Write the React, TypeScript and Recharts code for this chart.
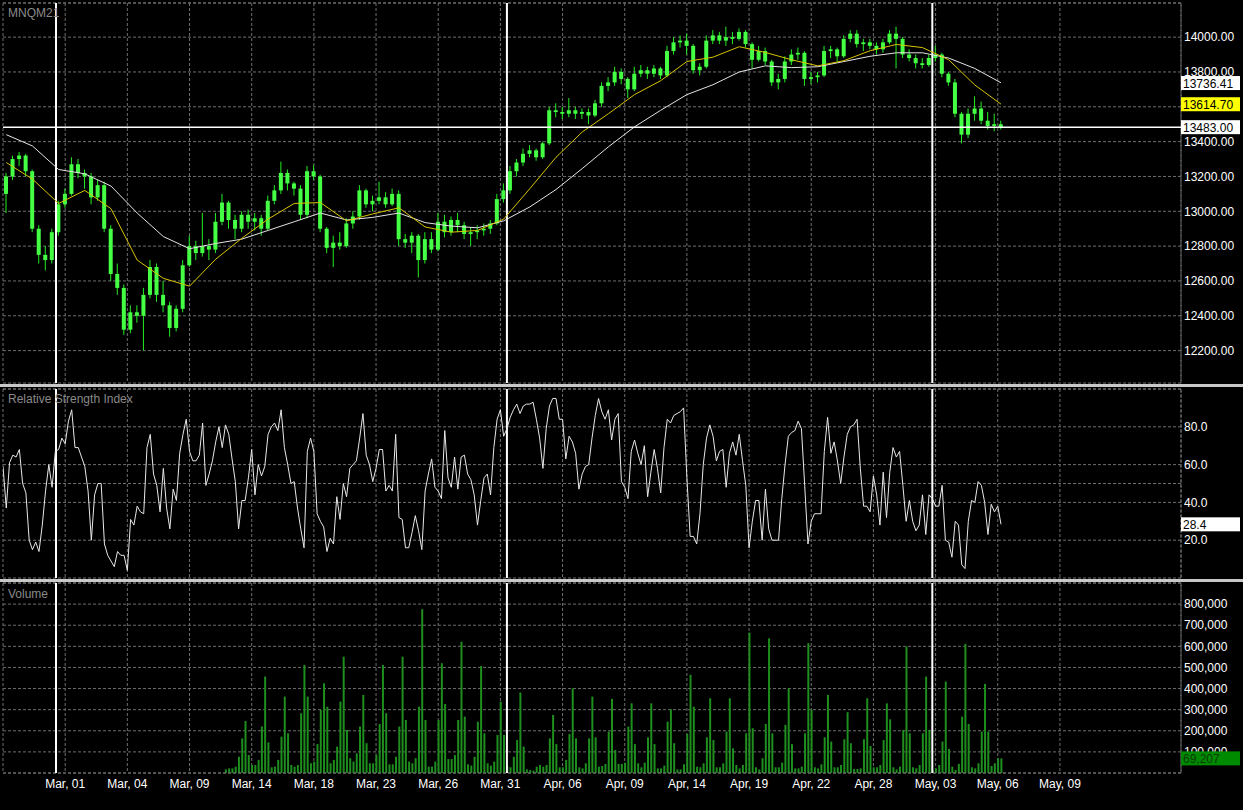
import { ComposedChart, Bar, Line, XAxis, YAxis, CartesianGrid, ReferenceLine } from 'recharts';

const FONT = 'Liberation Sans, Arial, sans-serif';
const GRID = '#6e6e6e';

// x positions are bar indices (4h bars), 0..360 spans the plot width
const xTicks = [0, 19, 38, 57, 76, 95, 114, 133, 152, 171, 190, 209, 228, 247, 266, 285, 304, 323];
const xLabels = ['', 'Mar, 01', 'Mar, 04', 'Mar, 09', 'Mar, 14', 'Mar, 18', 'Mar, 23', 'Mar, 26', 'Mar, 31',
  'Apr, 06', 'Apr, 09', 'Apr, 14', 'Apr, 19', 'Apr, 22', 'Apr, 28', 'May, 03', 'May, 06', 'May, 09'];
const monthStarts = [16.2, 154, 284];

const priceTicks = [12200, 12400, 12600, 12800, 13000, 13200, 13400, 13600, 13800, 14000];
const rsiTicks = [20, 40, 50, 60, 80];
const volumeTicks = [100000, 200000, 300000, 400000, 500000, 600000, 700000, 800000];

// candles, one every 2 bars (k = 2j + 1)
const candleOpen = [
  13100, 13200, 13300, 13320, 13230, 12900, 12750, 12720, 12880, 13040,
  13100, 13270, 13220, 13200, 13080, 13150, 12900, 12640, 12560, 12320,
  12420, 12400, 12520, 12680, 12520, 12460, 12330, 12440, 12690, 12800,
  12760, 12800, 12780, 12940, 13050, 12950, 12900, 12980, 12940, 12960,
  12900, 13060, 13120, 13220, 13160, 13130, 12980, 13230, 13200, 12900,
  12790, 12820, 12800, 12930, 12970, 13120, 13040, 13060, 13080, 13040,
  13100, 12840, 12820, 12860, 12720, 12840, 12780, 12940, 12880, 12950,
  12920, 12870, 12880, 12890, 12900, 12930, 13070, 13120, 13230, 13280,
  13330, 13350, 13310, 13390, 13580, 13570, 13560, 13580, 13560, 13570,
  13550, 13620, 13720, 13740, 13800, 13760, 13700, 13790, 13810, 13790,
  13820, 13780, 13920, 13970, 13980, 13950, 13810, 13830, 13980, 14010,
  13980, 14000, 13990, 14030, 13960, 13870, 13920, 13860, 13740, 13760,
  13860, 13900, 13910, 13760, 13770, 13780, 13920, 13930, 13890, 13990,
  14020, 13960, 13970, 13950, 13930, 13970, 14020, 13990, 13900, 13880,
  13850, 13840, 13880, 13900, 13790, 13740, 13560, 13440, 13560, 13590,
  13520, 13490, 13500,
];
const candleHigh = [
  13220, 13320, 13340, 13330, 13240, 12920, 12800, 12900, 13060, 13130,
  13310, 13300, 13240, 13220, 13180, 13170, 12920, 12700, 12580, 12460,
  12460, 12560, 12720, 12700, 12600, 12480, 12460, 12720, 12860, 12830,
  12990, 12840, 12990, 13100, 13060, 12980, 13000, 13010, 12990, 12980,
  13090, 13150, 13285, 13240, 13170, 13150, 13260, 13265, 13210, 12910,
  12860, 12880, 12960, 13000, 13150, 13130, 13090, 13170, 13110, 13130,
  13120, 12870, 12880, 12870, 12880, 12880, 12990, 12980, 12970, 12990,
  12940, 12910, 12920, 12930, 12950, 13100, 13160, 13260, 13300, 13360,
  13380, 13360, 13400, 13600, 13620, 13600, 13650, 13600, 13590, 13590,
  13640, 13740, 13770, 13830, 13820, 13770, 13830, 13840, 13830, 13840,
  13830, 13950, 14000, 14010, 14020, 13960, 13850, 14010, 14040, 14030,
  14060, 14030, 14050, 14040, 13970, 13950, 13940, 13870, 13790, 13890,
  13930, 13940, 13920, 13800, 13800, 13950, 13950, 13940, 14010, 14040,
  14040, 13990, 13990, 13970, 13990, 14040, 14060, 14000, 13930, 13900,
  13880, 13900, 13950, 13910, 13800, 13760, 13570, 13590, 13660, 13630,
  13570, 13560, 13520,
];
const candleLow = [
  12990, 13180, 13260, 13200, 12880, 12700, 12660, 12700, 12860, 13020,
  13090, 13190, 13130, 13040, 13060, 12880, 12600, 12520, 12290, 12300,
  12360, 12200, 12500, 12480, 12420, 12280, 12310, 12420, 12680, 12720,
  12740, 12720, 12760, 12920, 12900, 12840, 12880, 12900, 12890, 12860,
  12890, 13040, 13100, 13120, 13090, 12950, 12960, 13180, 12880, 12760,
  12680, 12780, 12790, 12900, 12950, 13020, 13000, 13040, 13020, 13030,
  12800, 12790, 12760, 12620, 12700, 12760, 12770, 12850, 12860, 12880,
  12840, 12800, 12840, 12860, 12870, 12920, 13050, 13100, 13200, 13260,
  13310, 13290, 13300, 13380, 13540, 13530, 13540, 13530, 13530, 13500,
  13540, 13600, 13690, 13720, 13730, 13650, 13690, 13770, 13760, 13770,
  13760, 13770, 13900, 13940, 13900, 13790, 13780, 13820, 13960, 13960,
  13950, 13960, 13980, 13940, 13820, 13860, 13840, 13720, 13700, 13740,
  13840, 13870, 13720, 13730, 13740, 13770, 13880, 13860, 13880, 13970,
  13940, 13920, 13930, 13900, 13910, 13960, 13820, 13880, 13860, 13820,
  13820, 13830, 13860, 13770, 13720, 13540, 13390, 13420, 13520, 13500,
  13470, 13460, 13470,
];
const candleClose = [
  13200, 13300, 13320, 13230, 12900, 12750, 12720, 12880, 13040, 13100,
  13270, 13220, 13200, 13080, 13150, 12900, 12640, 12560, 12320, 12420,
  12400, 12520, 12680, 12520, 12460, 12330, 12440, 12690, 12800, 12760,
  12800, 12780, 12940, 13050, 12950, 12900, 12980, 12940, 12960, 12900,
  13060, 13120, 13220, 13160, 13130, 12980, 13230, 13200, 12900, 12790,
  12820, 12800, 12930, 12970, 13120, 13040, 13060, 13080, 13040, 13100,
  12840, 12820, 12860, 12720, 12840, 12780, 12940, 12880, 12950, 12920,
  12870, 12880, 12890, 12900, 12930, 13070, 13120, 13230, 13280, 13330,
  13350, 13310, 13390, 13580, 13570, 13560, 13580, 13560, 13570, 13550,
  13620, 13720, 13740, 13800, 13760, 13700, 13790, 13810, 13790, 13820,
  13780, 13920, 13970, 13980, 13950, 13810, 13830, 13980, 14010, 13980,
  14000, 13990, 14030, 13960, 13870, 13920, 13860, 13740, 13760, 13860,
  13900, 13910, 13760, 13770, 13780, 13920, 13930, 13890, 13990, 14020,
  13960, 13970, 13950, 13930, 13970, 14020, 13990, 13900, 13880, 13850,
  13840, 13880, 13900, 13790, 13740, 13560, 13440, 13560, 13590, 13520,
  13490, 13500, 13483,
];

// moving averages, sampled at these bar indices
const maBars = [1, 9, 17, 25, 33, 41, 49, 57, 65, 73, 81, 89, 97, 105, 113, 121, 129, 137, 145, 153,
  161, 169, 177, 185, 193, 201, 209, 217, 225, 233, 241, 249, 257, 265, 273, 281, 289, 297, 305];
const maFast = [
  13280, 13185, 13045, 13120, 13015, 12720, 12615, 12570, 12725, 12845,
  12955, 13045, 13050, 12945, 12985, 13020, 12910, 12880, 12890, 12955,
  13130, 13310, 13455, 13560, 13670, 13750, 13860, 13885, 13945, 13912,
  13870, 13835, 13865, 13922, 13958, 13940, 13870, 13725, 13615,
];
const maSlow = [
  13440, 13375, 13240, 13215, 13145, 12990, 12855, 12785, 12815, 12840,
  12890, 12940, 12990, 12950, 12965, 12990, 12935, 12915, 12905, 12945,
  13025, 13125, 13245, 13370, 13485, 13580, 13670, 13727, 13800, 13835,
  13825, 13830, 13860, 13890, 13910, 13910, 13880, 13820, 13738,
];

// RSI, one value per bar from k = 0
const rsi = [
  59, 37, 61, 65, 64, 68, 50, 45, 20, 15, 19, 14, 28, 46, 60, 48, 67, 68, 74, 71,
  83, 89, 69, 69, 64, 59, 46, 20, 44, 50, 50, 18, 12, 9, 6, 14, 12, 12, 4, 31,
  28, 38, 35, 34, 69, 76, 55, 49, 35, 58, 37, 26, 47, 41, 66, 76, 84, 67, 62, 62,
  65, 82, 49, 55, 62, 72, 80, 69, 81, 76, 63, 51, 26, 41, 41, 53, 68, 44, 60, 54,
  59, 76, 80, 82, 78, 89, 69, 60, 50, 51, 37, 26, 16, 67, 74, 67, 34, 30, 27, 14,
  21, 18, 43, 31, 50, 43, 58, 60, 62, 74, 87, 65, 60, 51, 58, 68, 68, 46, 49, 46,
  76, 32, 31, 16, 16, 24, 33, 25, 15, 46, 55, 63, 48, 46, 42, 78, 53, 48, 64, 47,
  64, 65, 55, 52, 44, 28, 41, 53, 55, 44, 69, 84, 89,
  75, 79, 85, 89, 92, 87, 91, 92, 92, 93, 84, 74, 58, 79, 91, 95, 95, 84, 84, 63,
  75, 72, 66, 47, 55, 59, 60, 74, 86, 95, 88, 84, 89, 73, 84, 87, 51, 48, 42, 67,
  73, 66, 60, 70, 43, 56, 68, 58, 45, 69, 84, 82, 86, 87, 88, 90, 53, 22, 22, 18,
  34, 60, 74, 81, 75, 62, 67, 68, 48, 66, 72, 65, 76, 62, 49, 16, 30, 41, 41, 20,
  47, 26, 20, 20, 20, 42, 60, 75, 77, 78, 83, 79, 49, 18, 30, 34, 34, 34, 67, 85,
  66, 72, 62, 50, 64, 76, 80, 81, 84, 58, 38, 38, 35, 54, 44, 28, 56, 32, 56, 69,
  64, 67, 49, 30, 41, 30, 25, 28, 44, 23, 44, 42, 38, 38, 49, 20, 19, 11, 30, 28,
  7, 5, 30, 41, 40, 51, 49, 40, 23, 39, 35, 38, 28.4,
];

// volume, one value per bar starting at bar 68 (no volume before that)
const volumeStart = 68;
const volume = [
  17000, 22000, 22000, 30000, 77000, 164000, 246000, 85000, 38000, 38000,
  62000, 220000, 457000, 145000, 27000, 30000, 62000, 172000, 362000, 188000,
  38000, 30000, 38000, 283000, 512000, 362000, 46000, 54000, 137000, 299000,
  425000, 314000, 46000, 62000, 125000, 338000, 551000, 204000, 70000, 54000,
  93000, 220000, 370000, 141000, 46000, 46000, 85000, 232000, 512000, 283000,
  41000, 41000, 77000, 220000, 551000, 251000, 54000, 46000, 70000, 314000,
  776000, 251000, 30000, 30000, 54000, 251000, 520000, 327000, 66000, 66000,
  85000, 251000, 622000, 267000, 41000, 35000, 77000, 243000, 507000, 188000,
  46000, 35000, 54000, 180000, 338000, 180000, 35000, 27000, 77000, 156000,
  381000,
  125000, 17000, 14000, 11000, 30000, 38000, 30000, 38000, 164000, 275000,
  137000, 27000, 27000, 62000, 185000, 401000, 164000, 27000, 22000, 46000,
  164000, 362000, 169000, 30000, 33000, 43000, 196000, 351000, 109000, 43000,
  43000, 49000, 220000, 330000, 137000, 46000, 27000, 49000, 169000, 330000,
  137000, 22000, 22000, 35000, 243000, 302000, 141000, 17000, 17000, 41000,
  185000, 465000, 314000, 30000, 27000, 46000, 169000, 354000, 156000, 27000,
  27000, 46000, 196000, 354000, 117000, 38000, 22000, 38000, 188000, 665000,
  212000, 27000, 17000, 70000, 232000, 638000, 188000, 27000, 27000, 49000,
  228000, 401000, 137000, 22000, 22000, 30000, 188000, 615000, 299000, 27000,
  22000, 41000, 169000, 370000, 149000, 27000, 27000, 38000, 160000, 288000,
  141000, 19000, 19000, 22000, 160000, 354000, 128000, 27000, 27000, 38000,
  156000, 330000, 254000, 27000, 17000, 30000, 204000, 599000, 188000, 27000,
  22000, 38000, 188000, 457000, 204000, 14000, 22000, 38000, 149000, 433000,
  114000, 30000, 14000, 43000, 267000, 612000, 232000, 27000, 22000, 46000,
  196000, 422000, 196000, 33000, 46000, 70000, 69207,
];

// last values shown in the tags on the right
const lastClose = 13483;
const lastSlow = 13736.41;
const lastFast = 13614.7;
const lastRsi = 28.4;
const lastVolume = 69207;

const PRICE_MIN = 12014;
const PRICE_MAX = 14196;

const priceRows = (() => {
  const m = new Map<number, any>();
  candleOpen.forEach((o, j) => {
    const k = 2 * j + 1;
    m.set(k, { k, o, h: candleHigh[j], l: candleLow[j], c: candleClose[j] });
  });
  maBars.forEach((k, i) => {
    const r = m.get(k) || { k };
    r.fast = maFast[i];
    r.slow = maSlow[i];
    m.set(k, r);
  });
  return [...m.values()].sort((a, b) => a.k - b.k);
})();
const rsiRows = rsi.map((v, k) => ({ k, v }));
const volumeRows = volume.map((v, i) => ({ k: volumeStart + i, v }));

function Candle(props: any) {
  const { x, y, width, height, payload } = props;
  if (!payload || payload.h == null || height == null) return null;
  const { o, h, l, c } = payload;
  const top0 = Math.min(y, y + height);
  const hh = Math.abs(height);
  const py = (v: number) => top0 + ((h - v) / (h - l)) * hh;
  const bTop = py(Math.max(o, c));
  const bBot = py(Math.min(o, c));
  const cx = x + width / 2;
  return (
    <g>
      <line x1={cx} x2={cx} y1={top0} y2={top0 + hh} stroke="#22ee22" strokeWidth={1} />
      <rect x={x} y={bTop} width={width} height={Math.max(1, bBot - bTop)} fill="#44ff44" />
    </g>
  );
}

function ValueTag(props: any) {
  const { viewBox, text, bg, fg } = props;
  if (!viewBox) return null;
  const x = viewBox.x + viewBox.width;
  const y = viewBox.y;
  return (
    <g>
      <rect x={x} y={y - 7} width={59} height={14} fill={bg} />
      <text x={x + 2} y={y + 4.5} fontSize={12} fontFamily={FONT} fill={fg}>{text}</text>
    </g>
  );
}

const tickStyle = { fill: '#ffffff', fontSize: 12, fontFamily: FONT };

const title = (top: number, text: string) => (
  <div style={{ position: 'absolute', left: 8, top, color: '#8a8a8a', fontSize: 12, fontFamily: FONT }}>{text}</div>
);

// transparent chart on top of a pane, so the value tags cover the axis labels
function TagLayer({ top, height, margin, domain, data, tags }: any) {
  return (
    <div style={{ position: 'absolute', left: 0, top }}>
      <ComposedChart width={1243} height={height} data={data} margin={margin}>
        <XAxis dataKey="k" type="number" domain={[0, 360]} hide allowDataOverflow />
        <YAxis orientation="right" width={62} domain={domain} tick={false} axisLine={false} tickLine={false} allowDataOverflow />
        {tags.map((t: any) => (
          <ReferenceLine key={t.text} y={t.y} stroke="none" label={<ValueTag text={t.text} bg={t.bg} fg={t.fg} />} />
        ))}
      </ComposedChart>
    </div>
  );
}

export default function App() {
  const priceMargin = { top: 3, right: 0, bottom: 1, left: 3 };
  const rsiMargin = { top: 2, right: 0, bottom: 1, left: 3 };
  const volMargin = { top: 1, right: 0, bottom: 37, left: 3 };
  return (
    <div style={{ position: 'absolute', left: 0, top: 0, width: 1243, height: 810, background: '#000', overflow: 'hidden' }}>
      <div style={{ position: 'absolute', left: 0, top: 0 }}>
        <ComposedChart width={1243} height={384} data={priceRows} margin={priceMargin}>
          <CartesianGrid stroke={GRID} strokeDasharray="3 2" />
          <XAxis dataKey="k" type="number" domain={[0, 360]} ticks={xTicks} hide allowDataOverflow />
          <YAxis orientation="right" width={62} domain={[PRICE_MIN, PRICE_MAX]} ticks={priceTicks} interval={0}
            allowDataOverflow tickFormatter={(v: number) => v.toFixed(2)} axisLine={false} tickLine={false}
            tickSize={0} tickMargin={3} tick={tickStyle} />
          <ReferenceLine y={PRICE_MAX} stroke={GRID} strokeDasharray="3 2" />
          <ReferenceLine x={360} stroke={GRID} strokeDasharray="3 2" />
          {monthStarts.map((m) => (
            <ReferenceLine key={m} x={m} stroke="#ffffff" strokeWidth={2} />
          ))}
          <Bar dataKey={(d: any) => (d.h == null ? null : [d.l, d.h])} barSize={4} shape={<Candle />} isAnimationActive={false} />
          <Line dataKey="slow" stroke="#e4e4e4" strokeWidth={1} dot={false} connectNulls isAnimationActive={false} />
          <Line dataKey="fast" stroke="#d8c400" strokeWidth={1} dot={false} connectNulls isAnimationActive={false} />
          <ReferenceLine y={lastClose} stroke="#ffffff" strokeWidth={1.5} />
        </ComposedChart>
      </div>
      <TagLayer top={0} height={384} margin={priceMargin} domain={[PRICE_MIN, PRICE_MAX]} data={priceRows}
        tags={[
          { y: lastSlow, text: '13736.41', bg: '#ffffff', fg: '#000000' },
          { y: lastFast, text: '13614.70', bg: '#ffff00', fg: '#000000' },
          { y: lastClose, text: '13483.00', bg: '#ffffff', fg: '#000000' },
        ]} />
      {title(6, 'MNQM21')}

      <div style={{ position: 'absolute', left: 0, top: 384, width: 1243, height: 3, background: '#c8c8c8' }} />

      <div style={{ position: 'absolute', left: 0, top: 387 }}>
        <ComposedChart width={1243} height={192} data={rsiRows} margin={rsiMargin}>
          <CartesianGrid stroke={GRID} strokeDasharray="3 2" />
          <XAxis dataKey="k" type="number" domain={[0, 360]} ticks={xTicks} hide allowDataOverflow />
          <YAxis orientation="right" width={62} domain={[0, 100]} ticks={rsiTicks} interval={0}
            tickFormatter={(v: number) => (v === 50 ? '' : v.toFixed(1))} axisLine={false} tickLine={false}
            tickSize={0} tickMargin={3} tick={tickStyle} />
          <ReferenceLine y={100} stroke={GRID} strokeDasharray="3 2" />
          <ReferenceLine x={360} stroke={GRID} strokeDasharray="3 2" />
          {monthStarts.map((m) => (
            <ReferenceLine key={m} x={m} stroke="#ffffff" strokeWidth={2} />
          ))}
          <Line dataKey="v" stroke="#e8e8e8" strokeWidth={1} dot={false} isAnimationActive={false} />
        </ComposedChart>
      </div>
      <TagLayer top={387} height={192} margin={rsiMargin} domain={[0, 100]} data={rsiRows}
        tags={[{ y: lastRsi, text: '28.4', bg: '#ffffff', fg: '#000000' }]} />
      {title(392, 'Relative Strength Index')}

      <div style={{ position: 'absolute', left: 0, top: 579, width: 1243, height: 3, background: '#c8c8c8' }} />

      <div style={{ position: 'absolute', left: 0, top: 582 }}>
        <ComposedChart width={1243} height={228} data={volumeRows} margin={{ top: 1, right: 0, bottom: 0, left: 3 }}>
          <CartesianGrid stroke={GRID} strokeDasharray="3 2" />
          <XAxis dataKey="k" type="number" domain={[0, 360]} ticks={xTicks} interval={0} allowDataOverflow
            tickFormatter={(v: number) => xLabels[xTicks.indexOf(v)] ?? ''} axisLine={false} tickLine={false}
            tickSize={0} tickMargin={6} height={37} tick={tickStyle} />
          <YAxis orientation="right" width={62} domain={[0, 900000]} ticks={volumeTicks} interval={0}
            tickFormatter={(v: number) => v.toLocaleString('en-US')} axisLine={false} tickLine={false}
            tickSize={0} tickMargin={3} tick={tickStyle} />
          <ReferenceLine y={900000} stroke={GRID} strokeDasharray="3 2" />
          <ReferenceLine y={0} stroke={GRID} strokeDasharray="3 2" />
          <ReferenceLine x={360} stroke={GRID} strokeDasharray="3 2" />
          {monthStarts.map((m) => (
            <ReferenceLine key={m} x={m} stroke="#ffffff" strokeWidth={2} />
          ))}
          <Bar dataKey="v" barSize={2} fill="#1e8e1e" isAnimationActive={false} />
        </ComposedChart>
      </div>
      <TagLayer top={582} height={228} margin={volMargin} domain={[0, 900000]} data={volumeRows}
        tags={[{ y: lastVolume, text: '69,207', bg: '#008a00', fg: '#0a3a0a' }]} />
      {title(587, 'Volume')}
    </div>
  );
}
